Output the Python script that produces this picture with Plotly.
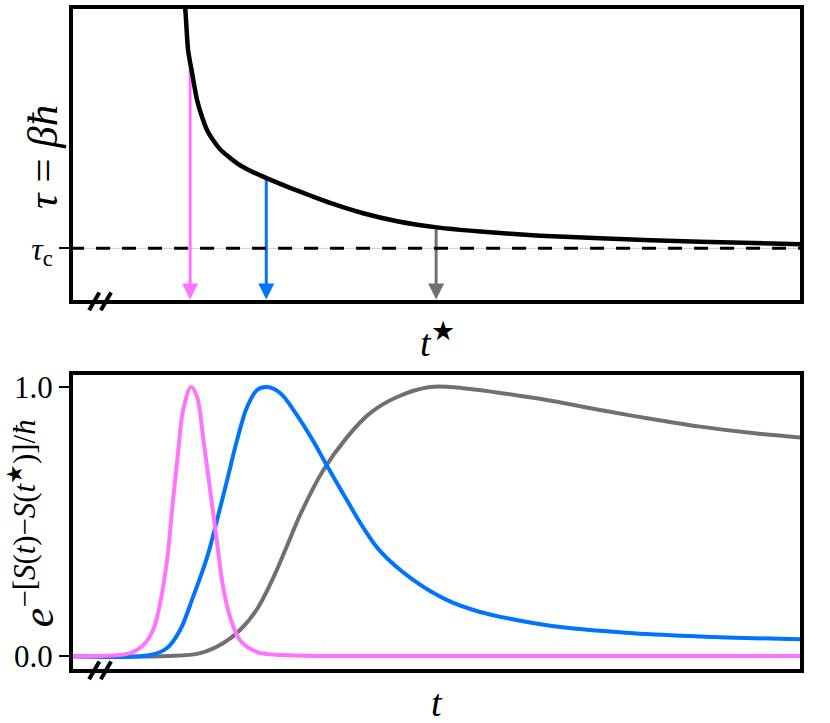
import plotly.graph_objects as go

# ---- data (x in arbitrary time units, 0..100) ----
# top panel: tau(t*) curve, tau in units where the panel spans 0..1
tstar_x = [15.57, 15.71, 16.12, 16.67, 17.35, 18.03, 18.72, 19.54, 20.49, 21.58,
           22.81, 24.59, 26.91, 30.05, 32.79, 35.52, 40.03, 44.67, 50.14, 56.01,
           64.21, 72.40, 86.07, 100.0]
tau_y = [1.016, 1.0, 0.853, 0.775, 0.684, 0.627, 0.582, 0.548, 0.518, 0.494,
         0.470, 0.445, 0.419, 0.387, 0.361, 0.336, 0.301, 0.274, 0.253, 0.239,
         0.225, 0.216, 0.204, 0.196]
tau_c = 0.182

# chosen t* values (arrows) and the tau where they leave the curve
arrow_x = [16.4, 26.8, 50.0]
arrow_top = [0.79, 0.415, 0.248]
colors = ["#ff73ff", "#0073ff", "#707070"]

# bottom panel: weights exp(-[S(t)-S(t*)]/hbar)
pink_x = [0, 4.1, 8.2, 9.97, 11.34, 12.30, 13.25, 13.93, 14.75, 15.44, 16.53,
          17.35, 18.17, 19.13, 20.08, 20.90, 21.86, 23.22, 25.55, 29.10, 35, 100]
pink_y = [0, 0, 0.011, 0.04, 0.097, 0.197, 0.357, 0.543, 0.755, 0.914, 1.0,
          0.963, 0.814, 0.617, 0.42, 0.257, 0.145, 0.059, 0.015, 0.004, 0, 0]

blue_x = [0, 10.93, 13.25, 15.03, 16.80, 18.72, 20.08, 21.45, 22.81, 24.18, 25.55,
          26.91, 28.69, 31.01, 33.20, 34.84, 37.84, 40.03, 42.35, 46.86, 51.50,
          56.01, 63.0, 67.90, 76.91, 86.07, 100]
blue_y = [0, 0.004, 0.03, 0.097, 0.22, 0.368, 0.506, 0.654, 0.803, 0.926, 0.989,
          1.0, 0.978, 0.895, 0.80, 0.72, 0.578, 0.478, 0.39, 0.283, 0.208,
          0.164, 0.124, 0.105, 0.085, 0.073, 0.062]

gray_x = [0, 13.25, 17.76, 20.90, 23.22, 25.55, 27.73, 29.64, 31.42, 34.56,
          37.84, 40.98, 44.67, 49.18, 53.69, 58.33, 63.25, 67.90, 72.40, 76.91,
          81.56, 86.07, 92.90, 100]
gray_y = [0, 0, 0.011, 0.048, 0.097, 0.175, 0.29, 0.41, 0.525, 0.69,
          0.814, 0.903, 0.963, 1.0, 0.996, 0.980, 0.960, 0.938, 0.915, 0.893,
          0.872, 0.853, 0.830, 0.812]

FONT = "Liberation Serif"
Y_LO, Y_HI = 0.007, 0.993   # top panel tau range

fig = go.Figure()

# tau_c reference: thin grey line with black dashes on top
fig.add_trace(go.Scatter(x=[0, 100], y=[tau_c, tau_c], mode="lines",
                         line=dict(color="#cfcfcf", width=1),
                         xaxis="x", yaxis="y", hoverinfo="skip"))

# arrows from the curve down to the t* axis (shaft + arrow-down marker at the tip)
tip = Y_LO + 0.002
for ax_, top, c in zip(arrow_x, arrow_top, colors):
    fig.add_trace(go.Scatter(x=[ax_, ax_], y=[top, tip + 0.03], mode="lines",
                             line=dict(color=c, width=3), xaxis="x", yaxis="y"))
    fig.add_trace(go.Scatter(x=[ax_], y=[tip], mode="markers",
                             marker=dict(symbol="arrow-down", size=16, color=c,
                                         line=dict(width=0)),
                             xaxis="x", yaxis="y", cliponaxis=False))

fig.add_trace(go.Scatter(x=[0, 100], y=[tau_c, tau_c], mode="lines",
                         line=dict(color="black", width=3, dash="14px,12px"),
                         xaxis="x", yaxis="y", hoverinfo="skip"))
fig.add_trace(go.Scatter(x=tstar_x, y=tau_y, mode="lines",
                         line=dict(color="black", width=4.5, shape="spline", smoothing=0.6),
                         xaxis="x", yaxis="y"))

for xs, ys, c in [(gray_x, gray_y, colors[2]), (blue_x, blue_y, colors[1]),
                  (pink_x, pink_y, colors[0])]:
    fig.add_trace(go.Scatter(x=xs, y=ys, mode="lines",
                             line=dict(color=c, width=4, shape="spline", smoothing=1),
                             xaxis="x2", yaxis="y2"))

# axis titles
fig.add_annotation(x=-0.0413, y=0.7758, xref="paper", yref="paper", showarrow=False,
                   xanchor="center", yanchor="middle",
                   text="<i>τ</i> = <i>βħ</i>", textangle=-90,
                   font=dict(family=FONT, size=43, color="black"))
fig.add_annotation(x=-0.055, y=0.221, xref="paper", yref="paper", showarrow=False,
                   xanchor="center", yanchor="middle",
                   text="<i>e</i><sup>−[<i>S</i>(<i>t</i>)−<i>S</i>(<i>t</i><sup>★</sup>)]/<i>ħ</i></sup>",
                   textangle=-90, font=dict(family=FONT, size=44, color="black"))
fig.add_annotation(x=0.5007, y=0.4985, xref="paper", yref="paper", showarrow=False,
                   xanchor="center", yanchor="middle",
                   text="<i>t</i><sup>★</sup>", font=dict(family=FONT, size=38, color="black"))
fig.add_annotation(x=0.5007, y=-0.0515, xref="paper", yref="paper", showarrow=False,
                   xanchor="center", yanchor="middle",
                   text="<i>t</i>", font=dict(family=FONT, size=38, color="black"))

# axis break marks "//"
for yref in ["y domain", "y2 domain"]:
    h = 9 / (295 if yref == "y domain" else 298)
    for xc in [3.3, 4.9]:
        fig.add_shape(type="line", xref="x", yref=yref,
                      x0=xc - 0.7, x1=xc + 0.7, y0=-h - 0.005, y1=h - 0.005,
                      line=dict(color="black", width=4))

frame = dict(showline=True, linecolor="black", linewidth=4, mirror=True,
             showgrid=False, zeroline=False, automargin=False)

fig.update_layout(
    width=830, height=723,
    margin=dict(l=73, r=30, t=9, b=54),
    paper_bgcolor="white", plot_bgcolor="white",
    showlegend=False,
    font=dict(family=FONT, size=28, color="black"),
    xaxis=dict(domain=[0, 1], range=[0.4, 99.7], anchor="y", showticklabels=False,
               ticks="", **frame),
    yaxis=dict(domain=[0.5591, 1], range=[Y_LO, Y_HI], anchor="x",
               tickvals=[tau_c], ticktext=["<i>τ</i><sub>c</sub>"],
               ticks="outside", ticklen=10, tickwidth=2, tickcolor="black",
               tickfont=dict(family=FONT, size=32), **frame),
    xaxis2=dict(domain=[0, 1], range=[0.4, 99.7], anchor="y2", showticklabels=False,
                ticks="", **frame),
    yaxis2=dict(domain=[0, 0.4455], range=[-0.048, 1.045], anchor="x2",
                tickvals=[0, 1], ticktext=["0.0", "1.0"],
                ticks="outside", ticklen=10, tickwidth=2, tickcolor="black",
                tickfont=dict(family=FONT, size=31), **frame),
)

fig.write_html("out.html", config={"displayModeBar": False},
               post_script="document.body.style.margin='0';")
